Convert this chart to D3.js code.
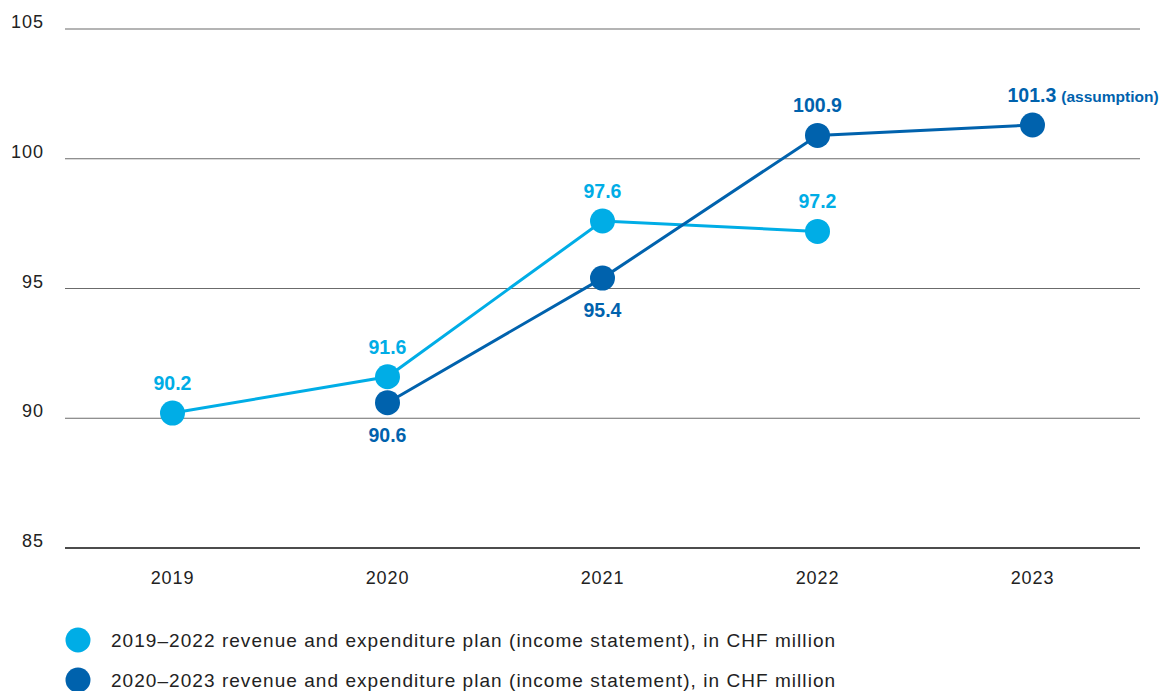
<!DOCTYPE html>
<html>
<head>
<meta charset="utf-8">
<script src="https://cdn.jsdelivr.net/npm/d3@7"></script>
<style>
  html, body { margin: 0; padding: 0; background: #fff; }
  svg { display: block; font-family: "Liberation Sans", Arial, sans-serif; }
</style>
</head>
<body>
<svg id="chart" width="1162" height="691"></svg>
<script>
// Plan figures, CHF million
const years = ["2019", "2020", "2021", "2022", "2023"];
const plan2019Years = ["2019", "2020", "2021", "2022"];
const plan2019Values = [90.2, 91.6, 97.6, 97.2];
const plan2020Years = ["2020", "2021", "2022", "2023"];
const plan2020Values = [90.6, 95.4, 100.9, 101.3];
const yTicks = [85, 90, 95, 100, 105];
const legendLabels = [
  "2019\u20132022 revenue and expenditure plan (income statement), in CHF million",
  "2020\u20132023 revenue and expenditure plan (income statement), in CHF million"
];

const lightBlue = "#00ade6";
const darkBlue = "#0062ad";

const svg = d3.select("#chart");
const plotLeft = 65, plotRight = 1140, plotTop = 29, plotBottom = 548;

const x = d3.scalePoint().domain(years).range([plotLeft, plotRight]).padding(0.5);
const y = d3.scaleLinear().domain([85, 105]).range([plotBottom, plotTop]);

// Horizontal grid and value labels
const grid = svg.append("g");
grid.selectAll("line").data(yTicks).join("line")
  .attr("x1", plotLeft).attr("x2", plotRight)
  .attr("y1", d => y(d)).attr("y2", d => y(d))
  .attr("stroke", d => d === 85 ? "#111" : "#6b6b6b")
  .attr("stroke-width", d => d === 85 ? 1.6 : 1.2);
grid.selectAll("text").data(yTicks).join("text")
  .attr("x", 44).attr("y", d => y(d) - 1)
  .attr("text-anchor", "end")
  .attr("font-size", 18).attr("letter-spacing", 1).attr("fill", "#222")
  .text(d => d);

// Year axis labels
svg.append("g").selectAll("text").data(years).join("text")
  .attr("x", d => x(d)).attr("y", 584)
  .attr("text-anchor", "middle")
  .attr("font-size", 18).attr("letter-spacing", 0.9).attr("fill", "#222")
  .text(d => d);

const line = d3.line().x(d => x(d.year)).y(d => y(d.value));

function drawSeries(yrs, vals, color, labelOffsets) {
  const pts = yrs.map((yr, i) => ({ year: yr, value: vals[i], dy: labelOffsets[i] }));
  const g = svg.append("g");
  g.append("path").datum(pts)
    .attr("d", line)
    .attr("fill", "none")
    .attr("stroke", color)
    .attr("stroke-width", 3);
  g.selectAll("circle").data(pts).join("circle")
    .attr("cx", d => x(d.year)).attr("cy", d => y(d.value))
    .attr("r", 12.5).attr("fill", color);
  return { g, pts };
}

const s1 = drawSeries(plan2019Years, plan2019Values, lightBlue, [-23, -23, -23, -23]);
const s2 = drawSeries(plan2020Years, plan2020Values, darkBlue, [39, 39, -23, -23]);

// Value labels
[s1, s2].forEach((s, k) => {
  const color = k === 0 ? lightBlue : darkBlue;
  s.pts.forEach((d) => {
    const t = s.g.append("text")
      .attr("x", x(d.year)).attr("y", y(d.value) + d.dy)
      .attr("text-anchor", "middle")
      .attr("font-size", 19.5).attr("font-weight", "bold")
      .attr("fill", color)
      .text(d3.format(".1f")(d.value));
    if (k === 1 && d.year === "2023") {
      t.attr("text-anchor", "start").attr("x", x(d.year) - 25);
      t.append("tspan").attr("font-size", 15.5).attr("dx", 5).text("(assumption)");
    }
  });
});

// Legend
const legend = svg.append("g");
legendLabels.forEach((lbl, i) => {
  const cy = 640 + i * 40;
  legend.append("circle").attr("cx", 78).attr("cy", cy).attr("r", 12.5)
    .attr("fill", i === 0 ? lightBlue : darkBlue);
  legend.append("text").attr("x", 111).attr("y", cy + 7)
    .attr("font-size", 19).attr("letter-spacing", 1.05)
    .attr("fill", "#222").text(lbl);
});
</script>
</body>
</html>
